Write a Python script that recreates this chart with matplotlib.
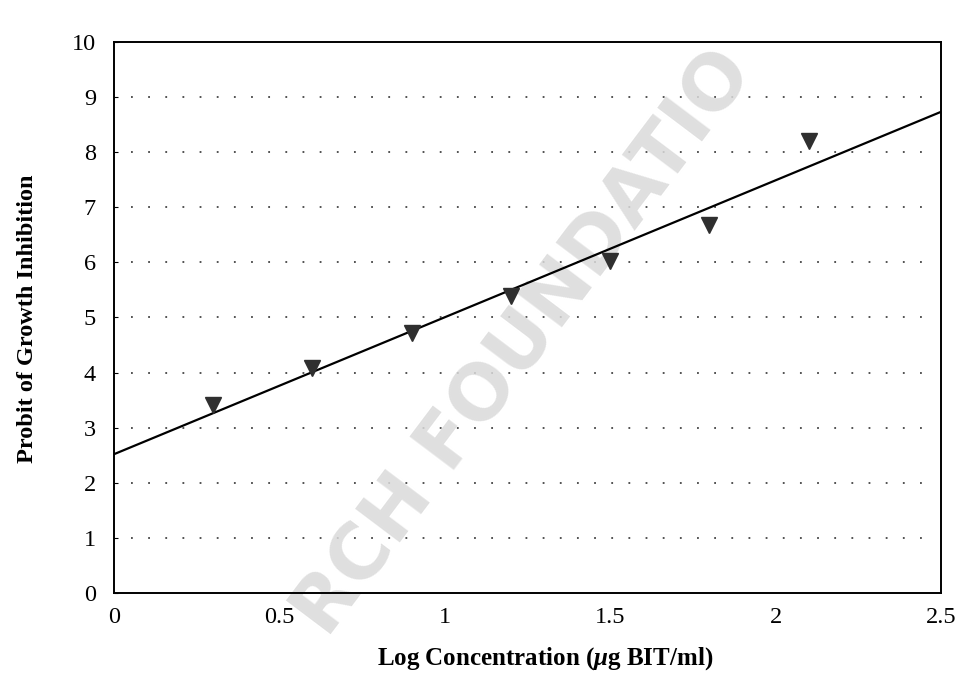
import numpy as np
import matplotlib; matplotlib.use("Agg")
import matplotlib.pyplot as plt

# probit of growth inhibition vs log concentration (ug BIT/ml)
log_conc = [0.3, 0.6, 0.9, 1.2, 1.5, 1.8, 2.1]
probit = [3.41, 4.08, 4.72, 5.39, 6.03, 6.68, 8.20]
x_ticks = [0, 0.5, 1, 1.5, 2, 2.5]
x_tick_labels = ["0", "0.5", "1", "1.5", "2", "2.5"]
y_ticks = list(range(0, 11))

plt.rcParams["font.family"] = ["Liberation Serif", "DejaVu Serif"]
plt.rcParams["mathtext.fontset"] = "custom"
plt.rcParams["mathtext.it"] = "Liberation Serif:italic:bold"

fig = plt.figure(figsize=(9.57, 6.73), dpi=100)
ax = fig.add_axes([0.1191, 0.1189, 0.8642, 0.8187])

# least-squares regression line across the full x range
slope, icpt = np.polyfit(log_conc, probit, 1)
xs = np.array([0, 2.5])
ax.plot(xs, icpt + slope * xs, color="black", lw=1.6, zorder=3)
ax.plot(log_conc, probit, linestyle="none", marker="v", ms=12,
        color="#2f2f2f", zorder=4)

for y in y_ticks[1:-1]:
    ax.axhline(y, xmin=0.02, xmax=0.985, color="#444444", lw=1.3,
               linestyle=(0, (1, 8.5)), zorder=1)

ax.set_xlim(0, 2.5); ax.set_ylim(0, 10)
ax.set_xticks(x_ticks); ax.set_xticklabels(x_tick_labels)
ax.set_yticks(y_ticks)
ax.tick_params(axis="x", length=0, pad=10, labelsize=17.5)
ax.tick_params(axis="y", length=3, direction="in", pad=13, labelsize=17.5)
for s in ax.spines.values():
    s.set_linewidth(1.4)

ax.set_xlabel("Log Concentration ($\\mu$g BIT/ml)", fontsize=18,
              fontweight="bold")
ax.set_ylabel("Probit of Growth Inhibition", fontsize=17.5,
              fontweight="bold")
ax.xaxis.set_label_coords(0.521, -0.094)
ax.yaxis.set_label_coords(-0.092, 0.497)

# faint scan watermark
ax.text(0.548, 0.49, "RCH FOUNDATIO", transform=fig.transFigure,
        rotation=53, ha="center", va="center", fontsize=55,
        fontweight="bold", family="DejaVu Sans", color="#dadada",
        alpha=0.85, zorder=2, clip_on=False)

fig.savefig("out.png", dpi=100)
